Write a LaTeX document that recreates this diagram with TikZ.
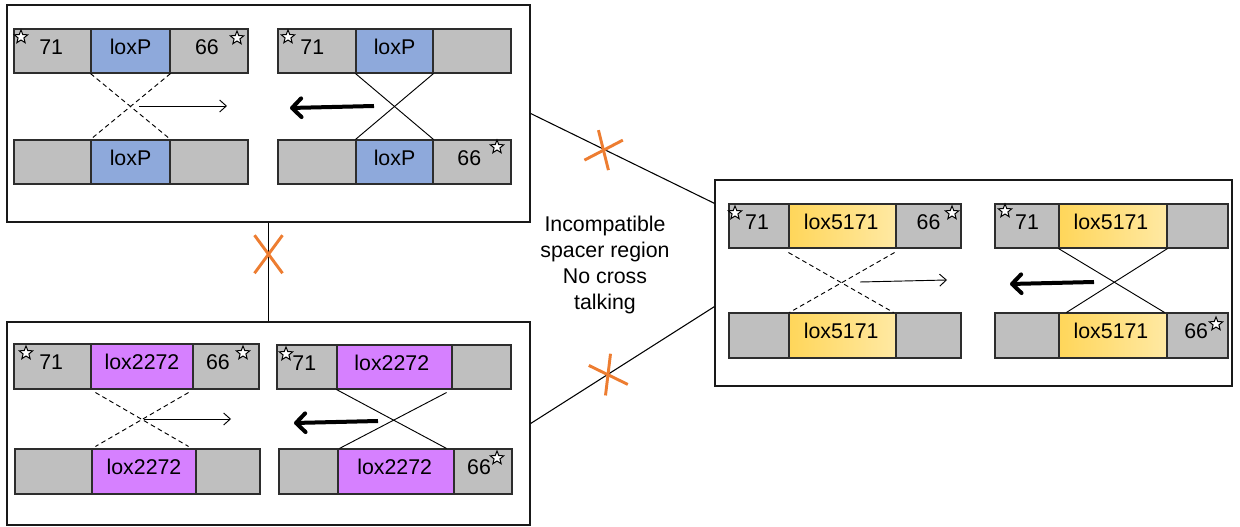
\documentclass[tikz,border=0pt]{standalone}
\usepackage{fontspec}
\setmainfont{Liberation Sans}
\usetikzlibrary{fit,shapes.geometric,arrows.meta,calc}
\definecolor{cgray}{RGB}{191,191,191}
\definecolor{cblue}{RGB}{142,169,219}
\definecolor{cpurp}{RGB}{214,128,255}
\definecolor{cyelL}{RGB}{255,214,90}
\definecolor{cyelR}{RGB}{255,233,163}
\definecolor{corange}{RGB}{237,125,49}
\definecolor{cline}{RGB}{45,45,45}
\newcommand\cel[6]{\node[cellbox,#6,fit={(#2,#4)(#3,#5)}] (#1) {};}
\begin{document}
\begin{tikzpicture}[x=0.75pt,y=-0.75pt,
  panel/.style={draw=black!90, line width=1pt, inner sep=0pt, fill=white},
  cellbox/.style={draw=cline, line width=0.8pt, inner sep=0pt},
  gcell/.style={fill=cgray},
  bcell/.style={fill=cblue},
  pcell/.style={fill=cpurp},
  ycell/.style={left color=cyelL, right color=cyelR},
  lbl/.style={font=\fontsize{16}{19}\selectfont, inner sep=0pt, text height=0.72em, text depth=0.2em},
  midtext/.style={font=\fontsize{16}{19.3}\selectfont, align=center, inner sep=0pt},
  starnode/.style={star, star points=5, star point ratio=2.3, minimum size=10.5pt, inner sep=0pt, draw=black, fill=white, line width=0.75pt},
  crossd/.style={line width=0.7pt, dash pattern=on 3.5pt off 2.5pt},
  crosss/.style={line width=0.7pt},
  thinarrow/.style={line width=0.7pt, -{Straight Barb[length=5pt,width=9pt]}},
  thickarrow/.style={line width=3pt, -{Straight Barb[length=7pt,width=14pt,round]}},
  link/.style={line width=0.8pt, draw=black},
  xmark/.style={draw=corange, line width=2.2pt}
]
\useasboundingbox (0,0) rectangle (1240,527);

% panels
\node[panel, fit={(7,5)(530,222)}] (p1) {};
\node[panel, fit={(7,322)(530,525)}] (p2) {};
\node[panel, fit={(715,180)(1232,386)}] (p3) {};

% links between panels
\draw[link] (p1.east) -- coordinate[pos=0.40] (x1) ([yshift=-18pt]p3.north west);
\draw[link] (p2.east) -- coordinate[pos=0.42] (x2) ([yshift=60pt]p3.south west);
\draw[link] (p1.south) -- coordinate[pos=0.32] (x3) (p2.north);
\draw[xmark] ($(x1)+(-19.7,10.7)$) -- ($(x1)+(18.7,-9.3)$);
\draw[xmark] ($(x1)+(-5.7,-19.3)$) -- ($(x1)+(4.3,20.7)$);
\draw[xmark] ($(x2)+(-19,-9)$) -- ($(x2)+(20,10)$);
\draw[xmark] ($(x2)+(2.7,-20.7)$) -- ($(x2)+(-2.3,21)$);
\draw[xmark] ($(x3)+(-14,-19)$) -- ($(x3)+(14,19)$);
\draw[xmark] ($(x3)+(14,-19)$) -- ($(x3)+(-14,19)$);

\node[midtext] (mt) at (605,265) {Incompatible\\spacer region\\No cross\\talking};

% ---------- panel 1 : loxP ----------
\cel{a1}{14}{91}{29}{73}{gcell}
\cel{a2}{91}{170}{29}{73}{bcell}
\cel{a3}{170}{248}{29}{73}{gcell}
\cel{a4}{14}{91}{140}{184}{gcell}
\cel{a5}{91}{170}{140}{184}{bcell}
\cel{a6}{170}{248}{140}{184}{gcell}
\cel{b1}{278}{356}{29}{73}{gcell}
\cel{b2}{356}{433}{29}{73}{bcell}
\cel{b3}{433}{511}{29}{73}{gcell}
\cel{b4}{278}{356}{140}{184}{gcell}
\cel{b5}{356}{433}{140}{184}{bcell}
\cel{b6}{433}{511}{140}{184}{gcell}
\node[lbl] (la1) at ([xshift=-1pt]a1.center) {71};
\node[lbl] (la2) at (a2.center) {loxP};
\node[lbl] (la3) at ([xshift=-1.5pt]a3.center) {66};
\node[lbl] (la5) at (a5.center) {loxP};
\node[lbl] (lb1) at ([xshift=-3.5pt]b1.center) {71};
\node[lbl] (lb2) at (b2.center) {loxP};
\node[lbl] (lb5) at (b5.center) {loxP};
\node[lbl] (lb6) at ([xshift=-2pt]b6.center) {66};
\node[starnode] (sa1) at (21,37) {};
\node[starnode] (sa3) at (237,38) {};
\node[starnode] (sb1) at (288,37) {};
\node[starnode] (sb6) at (497,147) {};
\draw[crossd] (a2.south west) -- (a5.north east);
\draw[crossd] (a2.south east) -- (a5.north west);
\draw[crosss] (b2.south west) -- (b5.north east);
\draw[crosss] (b2.south east) -- (b5.north west);
\coordinate (t1s) at (139,106); \coordinate (t1e) at (227,106);
\coordinate (k1s) at (374,106); \coordinate (k1e) at (290,108);
\draw[thinarrow] (t1s) -- (t1e);
\draw[thickarrow] (k1s) -- (k1e);

% ---------- panel 2 : lox2272 ----------
\cel{c1}{14}{91}{344}{389}{gcell}
\cel{c2}{91}{193}{344}{389}{pcell}
\cel{c3}{193}{259}{344}{389}{gcell}
\cel{c4}{15}{92}{449}{494}{gcell}
\cel{c5}{92}{196}{449}{494}{pcell}
\cel{c6}{196}{260}{449}{494}{gcell}
\cel{d1}{277}{337}{345}{389}{gcell}
\cel{d2}{337}{452}{345}{389}{pcell}
\cel{d3}{452}{511}{345}{389}{gcell}
\cel{d4}{279}{338}{449}{494}{gcell}
\cel{d5}{338}{454}{449}{494}{pcell}
\cel{d6}{454}{512}{449}{494}{gcell}
\node[lbl] (lc1) at ([xshift=-1pt]c1.center) {71};
\node[lbl] (lc2) at (c2.center) {lox2272};
\node[lbl] (lc3) at ([xshift=-6pt]c3.center) {66};
\node[lbl] (lc5) at (c5.center) {lox2272};
\node[lbl] (ld1) at ([xshift=-2pt]d1.center) {71};
\node[lbl] (ld2) at ([xshift=-2pt]d2.center) {lox2272};
\node[lbl] (ld5) at ([xshift=-1pt]d5.center) {lox2272};
\node[lbl] (ld6) at ([xshift=-3pt]d6.center) {66};
\node[starnode] (sc1) at (26,353) {};
\node[starnode] (sc3) at (243,353) {};
\node[starnode] (sd1) at (286,354) {};
\node[starnode] (sd6) at (497,458) {};
\draw[crossd] ($(c2.south west)+(5,3)$) -- ($(c5.north east)+(-8,-2)$);
\draw[crossd] ($(c2.south east)+(-5,3)$) -- ($(c5.north west)+(4,-2)$);
\draw[crosss] (d2.south west) -- ($(d5.north east)+(-8,0)$);
\draw[crosss] ($(d2.south east)+(-6,3)$) -- ($(d5.north west)+(2,0)$);
\coordinate (t2s) at (144,419); \coordinate (t2e) at (231,419);
\coordinate (k2s) at (378,421); \coordinate (k2e) at (294,423);
\draw[thinarrow] (t2s) -- (t2e);
\draw[thickarrow] (k2s) -- (k2e);

% ---------- panel 3 : lox5171 ----------
\cel{e1}{729}{789}{204}{248}{gcell}
\cel{e2}{789}{896}{204}{248}{ycell}
\cel{e3}{896}{961}{204}{248}{gcell}
\cel{e4}{729}{789}{313}{358}{gcell}
\cel{e5}{789}{896}{313}{358}{ycell}
\cel{e6}{896}{961}{313}{358}{gcell}
\cel{f1}{995}{1059}{204}{248}{gcell}
\cel{f2}{1059}{1167}{204}{248}{ycell}
\cel{f3}{1167}{1228}{204}{248}{gcell}
\cel{f4}{995}{1059}{313}{358}{gcell}
\cel{f5}{1059}{1167}{313}{358}{ycell}
\cel{f6}{1167}{1228}{313}{358}{gcell}
\node[lbl] (le1) at ([xshift=-1.5pt]e1.center) {71};
\node[lbl] (le2) at ([xshift=-1pt]e2.center) {lox5171};
\node[lbl] (le3) at (e3.center) {66};
\node[lbl] (le5) at ([xshift=-1pt]e5.center) {lox5171};
\node[lbl] (lf1) at (f1.center) {71};
\node[lbl] (lf2) at ([xshift=-1.5pt]f2.center) {lox5171};
\node[lbl] (lf5) at ([xshift=-1.5pt]f5.center) {lox5171};
\node[lbl] (lf6) at ([xshift=-1pt]f6.center) {66};
\node[starnode] (se1) at (735,213) {};
\node[starnode] (se3) at (952,213) {};
\node[starnode] (sf1) at (1005,211) {};
\node[starnode] (sf6) at (1216,324) {};
\draw[crossd] ($(e2.south west)+(0,4)$) -- ($(e5.north east)+(-3,0)$);
\draw[crossd] ($(e2.south east)+(-2,4)$) -- ($(e5.north west)+(1,0)$);
\draw[crosss] (f2.south west) -- ($(f5.north east)+(-3,0)$);
\draw[crosss] (f2.south east) -- ($(f5.north west)+(8,0)$);
\coordinate (t3s) at (860,282); \coordinate (t3e) at (947,280);
\coordinate (k3s) at (1094,282); \coordinate (k3e) at (1010,284);
\draw[thinarrow] (t3s) -- (t3e);
\draw[thickarrow] (k3s) -- (k3e);
\end{tikzpicture}
\end{document}
